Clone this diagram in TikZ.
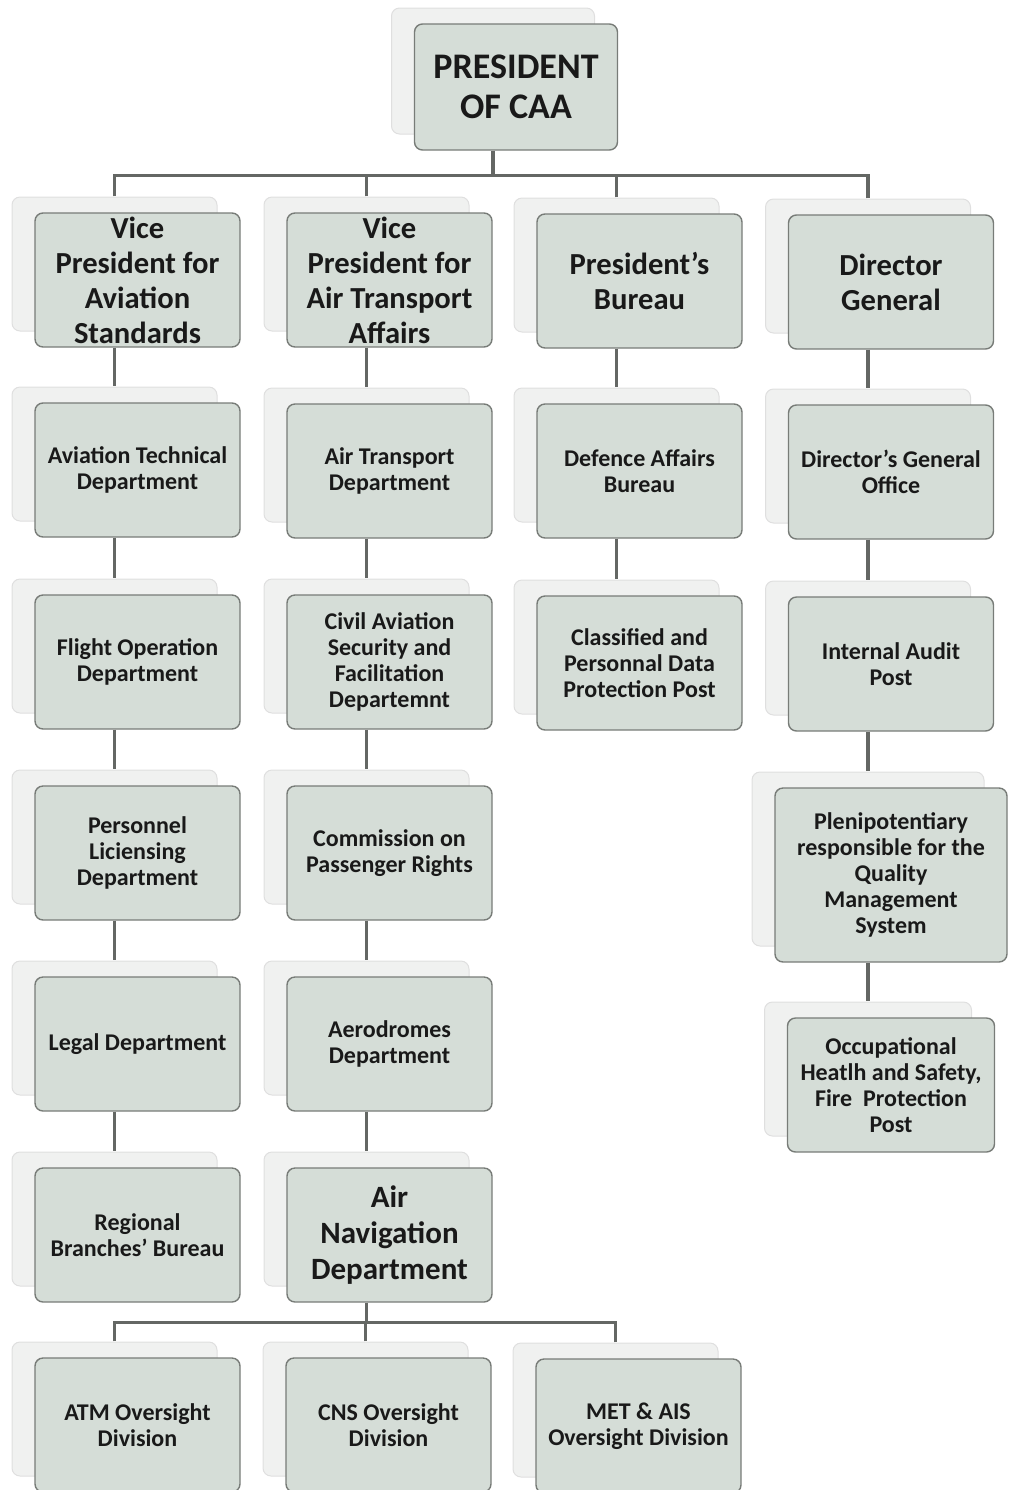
\documentclass[tikz,border=0pt]{standalone}
\usepackage{fontspec}
\setmainfont{Carlito}
\usetikzlibrary{shadows}
\definecolor{cardfill}{RGB}{213,221,215}
\definecolor{cardedge}{RGB}{120,124,120}
\definecolor{backfill}{RGB}{240,241,240}
\definecolor{linkgray}{RGB}{100,103,100}
\tikzset{
  card/.style={draw=cardedge, line width=0.7pt, fill=cardfill, rounded corners=4pt,
    minimum width=102.5pt, minimum height=67pt, inner sep=0pt, align=center,
    text=black!90, font=\bfseries\fontsize{12}{13}\selectfont,
    copy shadow={shadow xshift=-11.5pt, shadow yshift=8pt, fill=backfill,
      draw=gray!25, line width=0.5pt}},
  bigcard/.style={card, font=\bfseries\fontsize{15.3}{17.5}\selectfont},
  link/.style={draw=linkgray, line width=1.7pt},
}
\begin{document}
\begin{tikzpicture}[x=0.5pt, y=-0.5pt]
\useasboundingbox (0,0) rectangle (1008,1490);

% top
\node[card, minimum width=101.5pt, minimum height=63pt,
  font=\bfseries\fontsize{18}{20}\selectfont] (pres) at (516,87) {PRESIDENT\\OF CAA};

% vice presidents, bureau, director
\node[bigcard] (vpas) at (137.5,280) {Vice\\President for\\Aviation\\Standards};
\node[bigcard] (vpat) at (389.5,280) {Vice\\President for\\Air Transport\\Affairs};
\node[bigcard] (pbur) at (639.5,281) {President's\\Bureau};
\node[bigcard] (dgen) at (891,282) {Director\\General};

% first column
\node[card] (avtd) at (137.5,470) {Aviation Technical\\Department};
\node[card] (flop) at (137.5,662) {Flight Operation\\Department};
\node[card] (pers) at (137.5,853) {Personnel\\Liciensing\\Department};
\node[card] (legl) at (137.5,1044) {Legal Department};
\node[card] (regb) at (137.5,1235) {Regional\\Branches' Bureau};

% second column
\node[card] (atrd) at (389.5,471) {Air Transport\\Department};
\node[card] (casf) at (389.5,662) {Civil Aviation\\Security and\\Facilitation\\Departemnt};
\node[card] (cmpr) at (389.5,853) {Commission on\\Passenger Rights};
\node[card] (aero) at (389.5,1044) {Aerodromes\\Department};
\node[card, font=\bfseries\fontsize{15.5}{18}\selectfont] (andp) at (389.5,1235) {Air\\Navigation\\Department};

% third column
\node[card] (defa) at (639.5,471) {Defence Affairs\\Bureau};
\node[card] (clas) at (639.5,663) {Classified and\\Personnal Data\\Protection Post};

% fourth column
\node[card] (dgoff) at (891,472) {Director's General\\Office};
\node[card] (iaud) at (891,664) {Internal Audit\\Post};
\node[card, minimum width=116pt, minimum height=87pt] (plen) at (891,875)
  {Plenipotentiary\\responsible for the\\Quality\\Management\\System};
\node[card, minimum width=103.5pt] (ohsf) at (891,1085)
  {Occupational\\Heatlh and Safety,\\Fire\ \ Protection\\Post};

% divisions
\node[card] (atmd) at (137.5,1425) {ATM Oversight\\Division};
\node[card] (cnsd) at (388.5,1425) {CNS Oversight\\Division};
\node[card] (metd) at (638.5,1426) {MET \& AIS\\Oversight Division};

% connectors
\draw[link] ([xshift=-11.5pt]pres.south) -- ++(0,25) coordinate (topbus);
\foreach \n in {vpas,vpat,pbur,dgen}
  \draw[link] ([xshift=-11.5pt,yshift=8pt]\n.north) |- (topbus);
\foreach \a/\b in {vpas/avtd,avtd/flop,flop/pers,pers/legl,legl/regb,
    vpat/atrd,atrd/casf,casf/cmpr,cmpr/aero,aero/andp,
    pbur/defa,defa/clas,dgen/dgoff,dgoff/iaud,iaud/plen,plen/ohsf}
  \draw[link] ([xshift=-11.5pt]\a.south) -- ([xshift=-11.5pt,yshift=8pt]\b.north);
\draw[link] ([xshift=-11.5pt]andp.south) -- ++(0,20) coordinate (navbus);
\foreach \n in {atmd,cnsd,metd}
  \draw[link] ([xshift=-11.5pt,yshift=8pt]\n.north) |- (navbus);
\end{tikzpicture}
\end{document}
